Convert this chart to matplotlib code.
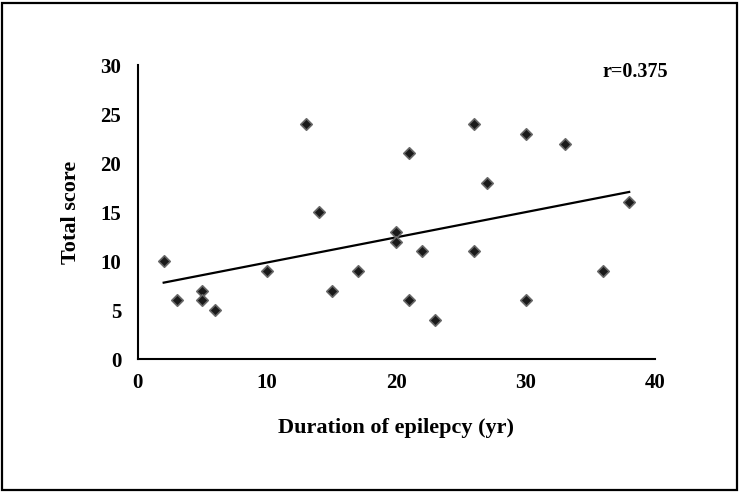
import numpy as np
import matplotlib.pyplot as plt
from matplotlib.patches import Rectangle

plt.rcParams['font.family'] = ['Liberation Serif', 'DejaVu Serif']

# duration of epilepsy (yr) and total score
duration = [2, 3, 5, 5, 6, 10, 13, 14, 15, 17, 20, 20, 21, 21, 22, 23,
            26, 26, 27, 30, 30, 33, 36, 38]
score = [10, 6, 7, 6, 5, 9, 24, 15, 7, 9, 13, 12, 21, 6, 11, 4,
         24, 11, 18, 23, 6, 22, 9, 16]
r_label = 'r=0.375'

x = np.array(duration, dtype=float)
y = np.array(score, dtype=float)

fig = plt.figure(figsize=(7.41, 4.98), dpi=100)
ax = fig.add_axes([0.186, 0.279, 0.698, 0.590])

ax.scatter(x, y, marker='D', s=34, color='#1a1a1a', edgecolors='#666666',
           linewidths=1.2, zorder=3)

# linear trendline
slope, intercept = np.polyfit(x, y, 1)
xl = np.array([x.min(), x.max()])
ax.plot(xl, slope * xl + intercept, color='black', lw=1.6, zorder=2)

ax.set_xlim(0, 40)
ax.set_ylim(0, 30)
ax.set_xticks([0, 10, 20, 30, 40])
ax.set_yticks([0, 5, 10, 15, 20, 25, 30])
ax.tick_params(length=0, labelsize=15)
ax.tick_params(axis='x', pad=10)
ax.tick_params(axis='y', pad=12)
for lab in ax.get_xticklabels() + ax.get_yticklabels():
    lab.set_fontweight('bold')

for side in ['top', 'right']:
    ax.spines[side].set_visible(False)
for side in ['left', 'bottom']:
    ax.spines[side].set_linewidth(1.5)

ax.set_xlabel('Duration of epilepcy (yr)', fontsize=16, fontweight='bold', labelpad=18)
ax.set_ylabel('Total score', fontsize=16, fontweight='bold', labelpad=14)

fig.text(0.901, 0.855, r_label, ha='right', va='center',
         fontsize=14.5, fontweight='bold')

# outer frame
fig.patches.append(Rectangle((0.003, 0.016), 0.991, 0.978, transform=fig.transFigure,
                             fill=False, edgecolor='black', lw=1.6))

fig.savefig('out.png', dpi=100)
